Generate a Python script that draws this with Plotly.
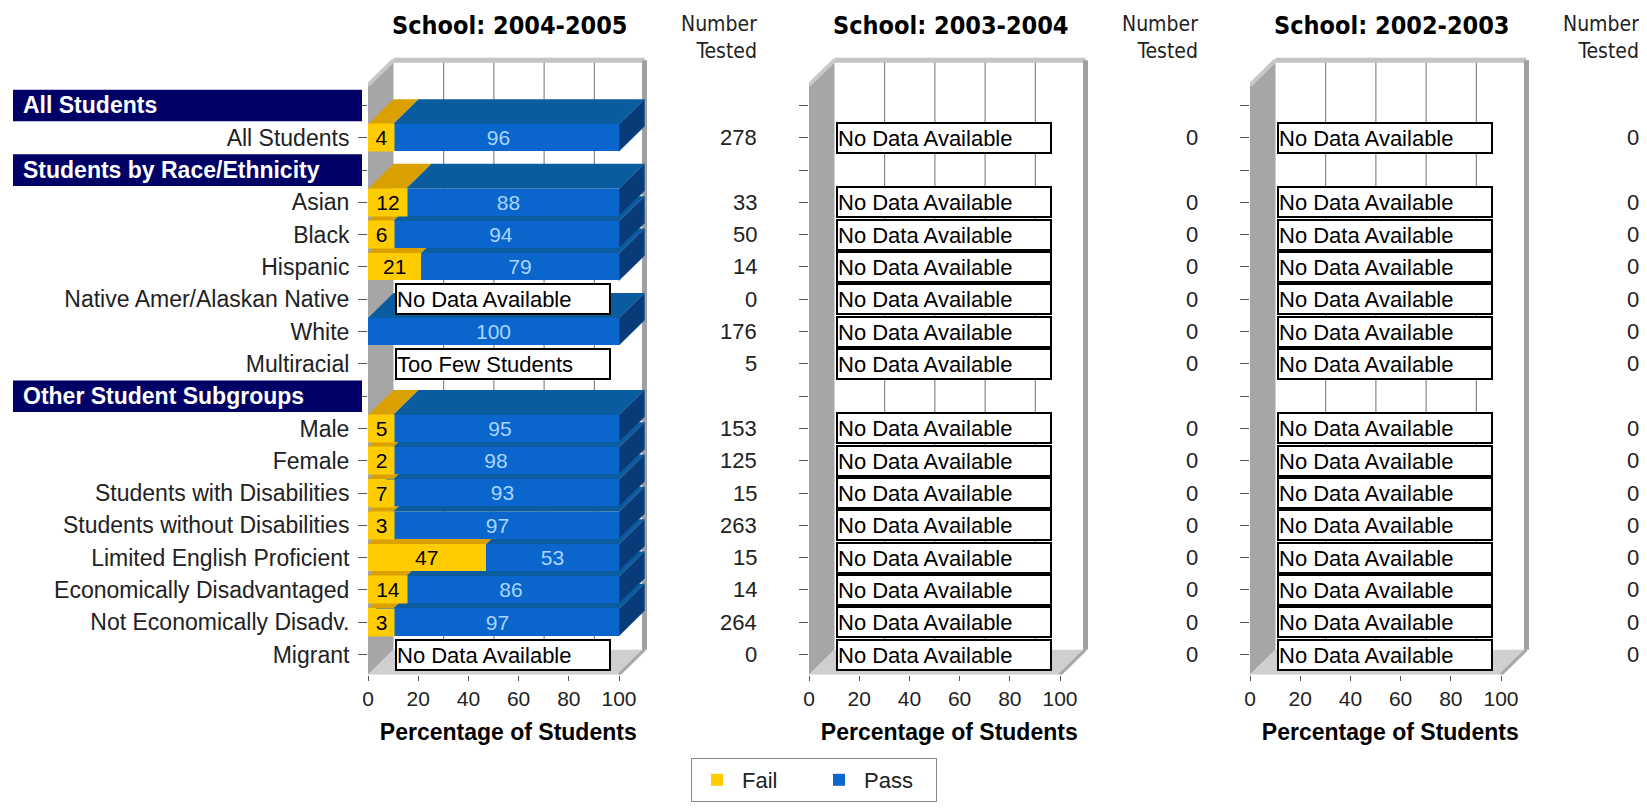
import plotly.graph_objects as go

# window size and the 8px page margin the figure sits behind
WIN_W, WIN_H = 1647, 811
OFF = 8
FW, FH = WIN_W - OFF, WIN_H - OFF

# ---------------- data ----------------
row_labels = ["All Students", "All Students", "Students by Race/Ethnicity", "Asian", "Black",
              "Hispanic", "Native Amer/Alaskan Native", "White", "Multiracial",
              "Other Student Subgroups", "Male", "Female", "Students with Disabilities",
              "Students without Disabilities", "Limited English Proficient",
              "Economically Disadvantaged", "Not Economically Disadv.", "Migrant"]
is_header = [True, False, True, False, False, False, False, False, False,
             True, False, False, False, False, False, False, False, False]

panel_titles = ["School: 2004-2005", "School: 2003-2004", "School: 2002-2003"]

fail_0405 = [None, 4, None, 12, 6, 21, None, 0, None, None, 5, 2, 7, 3, 47, 14, 3, None]
pass_0405 = [None, 96, None, 88, 94, 79, None, 100, None, None, 95, 98, 93, 97, 53, 86, 97, None]
note_0405 = [None, None, None, None, None, None, "No Data Available", None, "Too Few Students",
             None, None, None, None, None, None, None, None, "No Data Available"]
tested_0405 = [None, 278, None, 33, 50, 14, 0, 176, 5, None, 153, 125, 15, 263, 15, 14, 264, 0]

fail_0304 = [None] * 18
pass_0304 = [None] * 18
note_0304 = [None if h else "No Data Available" for h in is_header]
tested_0304 = [None if h else 0 for h in is_header]

fail_0203 = [None] * 18
pass_0203 = [None] * 18
note_0203 = [None if h else "No Data Available" for h in is_header]
tested_0203 = [None if h else 0 for h in is_header]

panels = [
    (fail_0405, pass_0405, note_0405, tested_0405),
    (fail_0304, pass_0304, note_0304, tested_0304),
    (fail_0203, pass_0203, note_0203, tested_0203),
]

x_ticks = [0, 20, 40, 60, 80, 100]

# ---------------- geometry / style (window pixels) ----------------
FONT = "Liberation Sans, Arial, sans-serif"
NARROW = "DejaVu Sans Condensed, Liberation Sans Narrow, Arial Narrow, sans-serif"
YELLOW, YELLOW_TOP = "#FFCC00", "#D9A000"
BLUE, BLUE_TOP, BLUE_SIDE = "#0A66CC", "#0B5C9E", "#083B78"
NAVY = "#000066"

PX0 = [368.0, 809.0, 1250.0]        # window pixel of x=0 (front plane) per panel
KX = 2.51                            # px per percent
ROW0 = 105.5                         # window pixel of first row centre
KY = 32.3                            # px per row
dx = 25.5 / KX
dy = 25.0 / KY
YF_TOP = -0.63                       # front plane top (rows)
YF_BOT = 17.62                       # front plane bottom (rows)
YB_TOP = YF_TOP - dy
YB_BOT = YF_BOT - dy
XMAX = 100 + dx + 1.6
YMIN = YB_TOP - 0.12
BW = 0.84
n = len(row_labels)
rows = list(range(n))


def fxp(px):
    return (px - OFF) / FW


def fyp(py):
    return 1 - (py - OFF) / FH


ydom = [fyp(ROW0 + YF_BOT * KY), fyp(ROW0 + YMIN * KY)]
number_right = [759, 1200, 1641]


def label_px(v):
    # width (px) of the value label box drawn on small Fail segments
    return 12 + 13 * len(str(v))


def path(pts):
    return "M " + " L ".join(f"{x:.4f},{y:.4f}" for x, y in pts) + " Z"


fig = go.Figure()
shapes = []
annotations = []

for p, (fail, pss, note, tested) in enumerate(panels):
    sfx = "" if p == 0 else str(p + 1)
    xa, ya = "x" + sfx, "y" + sfx

    # bars (front faces)
    ys = [i for i in rows if fail[i] is not None]
    fv = [fail[i] for i in ys]
    pv = [pss[i] for i in ys]
    fig.add_trace(go.Bar(
        name="Fail", y=ys, x=fv, orientation="h", width=BW, xaxis=xa, yaxis=ya,
        marker=dict(color=YELLOW, line=dict(width=0)),
        showlegend=(p == 0), legendgroup="fail", hoverinfo="skip"))
    fig.add_trace(go.Bar(
        name="Pass", y=ys, x=pv, orientation="h", width=BW, xaxis=xa, yaxis=ya,
        marker=dict(color=BLUE, line=dict(width=0)),
        text=[str(v) if v else "" for v in pv], textposition="inside", textangle=0,
        insidetextanchor="middle", constraintext="none",
        textfont=dict(family=FONT, size=21, color="#A8D4FF"),
        showlegend=(p == 0), legendgroup="pass", hoverinfo="skip"))

    # walls
    shapes.append(dict(type="path", xref=xa, yref=ya, layer="below", line=dict(width=0),
                       fillcolor="#A6A6A6",
                       path=path([(0, YF_TOP), (dx, YB_TOP), (dx, YB_BOT), (0, YF_BOT)])))
    shapes.append(dict(type="path", xref=xa, yref=ya, layer="below", line=dict(width=0),
                       fillcolor="#CFCFCF",
                       path=path([(0, YF_BOT), (100, YF_BOT), (100 + dx, YB_BOT), (dx, YB_BOT)])))
    for v in x_ticks[1:-1]:
        shapes.append(dict(type="line", xref=xa, yref=ya, layer="below",
                           x0=v + dx, x1=v + dx, y0=YB_TOP, y1=YB_BOT,
                           line=dict(color="#707070", width=1)))
    shapes.append(dict(type="path", xref=xa, yref=ya, layer="below",
                       path=f"M {dx:.4f},{YB_TOP:.4f} L {100 + dx:.4f},{YB_TOP:.4f}",
                       line=dict(color="#C4C4C4", width=5)))
    shapes.append(dict(type="path", xref=xa, yref=ya, layer="below",
                       path=f"M {100 + dx:.4f},{YB_TOP:.4f} L {100 + dx:.4f},{YB_BOT:.4f}",
                       line=dict(color="#A0A0A0", width=5)))
    shapes.append(dict(type="path", xref=xa, yref=ya, layer="below",
                       path=f"M 0,{YF_TOP:.4f} L {dx:.4f},{YB_TOP:.4f}",
                       line=dict(color="#C8C8C8", width=4)))
    shapes.append(dict(type="path", xref=xa, yref=ya, layer="below",
                       path=f"M 100,{YF_BOT:.4f} L {100 + dx:.4f},{YB_BOT:.4f}",
                       line=dict(color="#A8A8A8", width=3)))

    # 3-D top and side faces (bottom row first) + Fail value labels
    for i in reversed(ys):
        f, q = fail[i], pss[i]
        yt = i - BW / 2
        fvis = f
        if f > 0:
            lw = label_px(f)
            if f * KX < lw + 4:
                fvis = lw / KX
                annotations.append(dict(xref=xa, yref=ya, x=0, y=i, xanchor="left",
                                        yanchor="middle", text=str(f), showarrow=False,
                                        width=lw, height=BW * KY, bgcolor=YELLOW,
                                        borderpad=0, align="center",
                                        font=dict(family=FONT, size=21, color="black")))
            else:
                annotations.append(dict(xref=xa, yref=ya, x=f / 2, y=i, xanchor="center",
                                        yanchor="middle", text=str(f), showarrow=False,
                                        font=dict(family=FONT, size=21, color="black")))
            shapes.append(dict(type="path", xref=xa, yref=ya, layer="below", line=dict(width=0),
                               fillcolor=YELLOW_TOP,
                               path=path([(0, yt), (fvis, yt), (fvis + dx, yt - dy), (dx, yt - dy)])))
        shapes.append(dict(type="path", xref=xa, yref=ya, layer="below", line=dict(width=0),
                           fillcolor=BLUE_TOP,
                           path=path([(fvis, yt), (f + q, yt), (f + q + dx, yt - dy),
                                      (fvis + dx, yt - dy)])))
        shapes.append(dict(type="path", xref=xa, yref=ya, layer="below",
                           line=dict(width=0.6, color="#1F5FA8"), fillcolor=BLUE_SIDE,
                           path=path([(f + q, yt), (f + q, yt + BW), (f + q + dx, yt + BW - dy),
                                      (f + q + dx, yt - dy)])))

    # note boxes
    for i in rows:
        if note[i]:
            annotations.append(dict(xref=xa, yref=ya, x=10.8, y=i, xanchor="left", yanchor="middle",
                                    text=note[i], showarrow=False, align="left",
                                    width=85.2 * KX - 2, height=28, bgcolor="white",
                                    bordercolor="black", borderwidth=2, borderpad=0,
                                    font=dict(family=FONT, size=22, color="black")))
    # number tested
    for i in rows:
        if tested[i] is not None:
            annotations.append(dict(xref="paper", yref=ya, x=fxp(number_right[p]), y=i,
                                    xanchor="right", yanchor="middle", text=str(tested[i]),
                                    showarrow=False,
                                    font=dict(family=FONT, size=22, color="#222222")))
    annotations.append(dict(xref="paper", yref="paper", x=fxp(number_right[p]), y=fyp(37),
                            xanchor="right", yanchor="middle", text="Number<br>Tested",
                            showarrow=False, align="right",
                            font=dict(family=NARROW, size=21, color="#222222")))
    # panel title
    annotations.append(dict(xref="paper", yref="paper", x=fxp(PX0[p] + 141.5), y=fyp(26),
                            xanchor="center", yanchor="middle", text=panel_titles[p],
                            showarrow=False,
                            font=dict(family=NARROW, size=25, color="black", weight="bold")))

    xdom = [fxp(PX0[p]), fxp(PX0[p] + XMAX * KX)]
    fig.update_layout(**{
        "xaxis" + sfx: dict(domain=xdom, range=[0, XMAX], anchor=ya, tickvals=x_ticks,
                            ticks="outside", ticklen=5, tickcolor="#555", showgrid=False,
                            zeroline=False, showline=False, ticklabelstandoff=0,
                            automargin=False,
                            tickfont=dict(family=FONT, size=21, color="#222222"),
                            title=dict(text="Percentage of Students", standoff=15,
                                       font=dict(family=FONT, size=23, color="black",
                                                 weight="bold"))),
        "yaxis" + sfx: dict(domain=ydom, range=[YF_BOT, YMIN], anchor=xa, tickvals=rows,
                            ticktext=[("" if h else lab) for h, lab in zip(is_header, row_labels)],
                            showticklabels=(p == 0), ticks="outside", ticklen=9,
                            ticklabelstandoff=4, automargin=False,
                            tickcolor="#555", showgrid=False, zeroline=False, showline=False,
                            tickfont=dict(family=FONT, size=23, color="#222222")),
    })

# header bands
for i in rows:
    if is_header[i]:
        shapes.append(dict(type="rect", xref="paper", yref="y", x0=fxp(13), x1=fxp(362),
                           y0=i - 0.49, y1=i + 0.49, fillcolor=NAVY, line=dict(width=0),
                           layer="above"))
        annotations.append(dict(xref="paper", yref="y", x=fxp(21), y=i, xanchor="left",
                                yanchor="middle", text=row_labels[i], showarrow=False,
                                font=dict(family=FONT, size=23, color="white", weight="bold")))

fig.update_layout(
    width=FW, height=FH, barmode="stack", bargap=0,
    margin=dict(l=0, r=0, t=0, b=0, autoexpand=False),
    paper_bgcolor="white", plot_bgcolor="white",
    shapes=shapes, annotations=annotations,
    legend=dict(orientation="h", x=fxp(814), xanchor="center", y=fyp(780), yanchor="middle",
                bordercolor="#888888", borderwidth=1, bgcolor="white", traceorder="normal",
                font=dict(family=FONT, size=22, color="#222222"), itemwidth=40,
                entrywidth=67),
    font=dict(family=FONT),
)

fig.write_html("out.html")
